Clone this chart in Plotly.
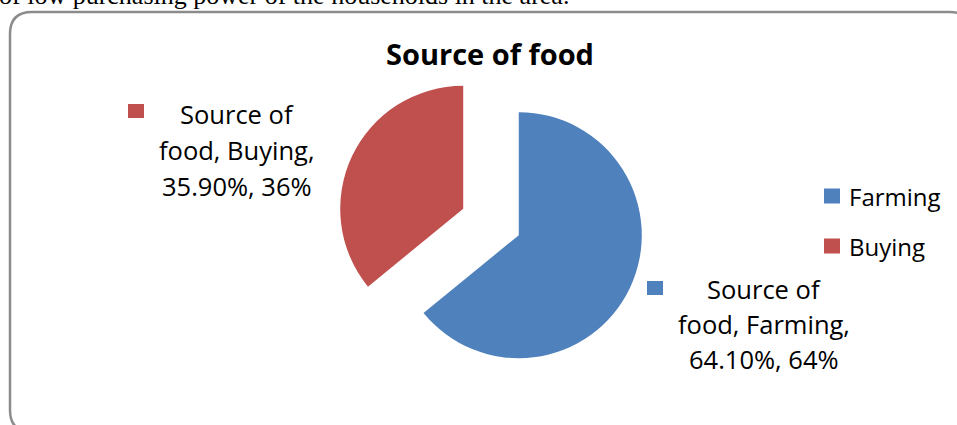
import plotly.graph_objects as go

# ---- data ----
labels = ["Farming", "Buying"]
values = [64.10, 35.90]
colors = ["#4F81BD", "#C0504D"]
series_name = "Source of food"
title_text = "Source of food"
caption_text = "of low purchasing power of the households in the area."

W, H = 957, 425
FONT = "Open Sans"


def px(x):
    return x / W


def py(y):
    return 1 - y / H


fig = go.Figure()
fig.add_trace(go.Pie(
    labels=labels,
    values=values,
    marker=dict(colors=colors, line=dict(width=0)),
    sort=False,
    direction="clockwise",
    rotation=0,
    pull=[0.25, 0.25],
    textinfo="none",
    hoverinfo="label+value+percent",
    showlegend=False,
    domain=dict(x=[px(491 - 153.75), px(491 + 153.75)],
                y=[py(222 + 153.75), py(222 - 153.75)]),
))

shapes = []
annotations = []

# rounded border
L, T, R, B, r = 10, 12, 972, 432, 22
path = (f"M {px(L + r)},{py(T)} L {px(R - r)},{py(T)} Q {px(R)},{py(T)} {px(R)},{py(T + r)} "
        f"L {px(R)},{py(B - r)} Q {px(R)},{py(B)} {px(R - r)},{py(B)} "
        f"L {px(L + r)},{py(B)} Q {px(L)},{py(B)} {px(L)},{py(B - r)} "
        f"L {px(L)},{py(T + r)} Q {px(L)},{py(T)} {px(L + r)},{py(T)} Z")
shapes.append(dict(type="path", xref="paper", yref="paper", path=path,
                   line=dict(color="#8c8c8c", width=2.5), layer="below"))

# manual legend
leg_y = [196, 246]
for lab, col, yy in zip(labels, colors, leg_y):
    shapes.append(dict(type="rect", xref="paper", yref="paper",
                       x0=px(824), x1=px(840), y0=py(yy - 7.5), y1=py(yy + 7.5),
                       fillcolor=col, line=dict(width=0)))
    annotations.append(dict(text=lab, xref="paper", yref="paper", x=px(847), y=py(yy),
                            xanchor="left", yanchor="middle", showarrow=False,
                            font=dict(family=FONT, size=24, color="#000")))

# data labels (each line placed separately to match line spacing)
lab_pos = {"Farming": (655, 288, 764, [289, 324, 359]),
           "Buying": (136, 111, 237, [114, 150, 186])}
for lab, val, col in zip(labels, values, colors):
    sx, sy, tx, tys = lab_pos[lab]
    shapes.append(dict(type="rect", xref="paper", yref="paper",
                       x0=px(sx - 8), x1=px(sx + 8), y0=py(sy - 7), y1=py(sy + 7),
                       fillcolor=col, line=dict(width=0)))
    lines = ["Source of", f"food, {lab},", f"{val:.2f}%, {round(val)}%"]
    for line, ty in zip(lines, tys):
        annotations.append(dict(text=line, xref="paper", yref="paper", x=px(tx), y=py(ty),
                                xanchor="center", yanchor="middle", align="center",
                                showarrow=False,
                                font=dict(family=FONT, size=25.5, color="#000")))

# caption cut at top
annotations.append(dict(text=caption_text, xref="paper", yref="paper", x=px(-3), y=py(-5),
                        xanchor="left", yanchor="middle", showarrow=False,
                        font=dict(family="Liberation Serif", size=26, color="#000")))

fig.update_layout(
    width=W, height=H,
    margin=dict(l=0, r=0, t=0, b=0),
    paper_bgcolor="white",
    plot_bgcolor="white",
    title=dict(text=f"<b>{title_text}</b>", x=px(490), y=py(55), xanchor="center",
               yanchor="middle", xref="paper", yref="container",
               font=dict(family=FONT, size=29, color="#000")),
    shapes=shapes,
    annotations=annotations,
)

fig.write_html("out.html")
